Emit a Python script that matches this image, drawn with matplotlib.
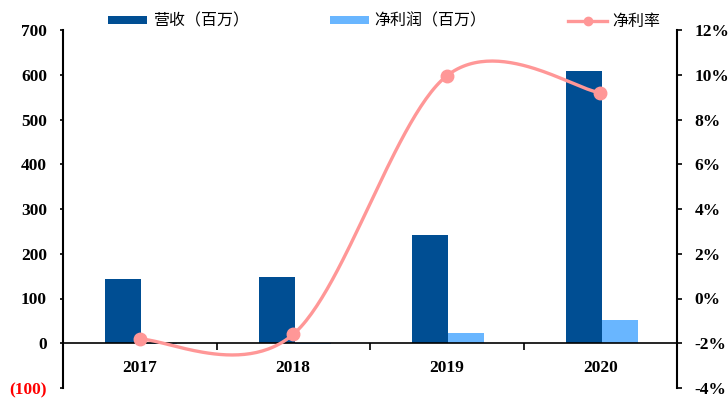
import numpy as np
import matplotlib.pyplot as plt
from matplotlib.ticker import FuncFormatter, FixedLocator

plt.rcParams['font.family'] = ['Liberation Serif', 'Noto Sans CJK SC']

# data
years = ["2017", "2018", "2019", "2020"]
revenue = [144, 147, 243, 608]        # 营收（百万）
net_profit = [-2.6, -2.4, 23, 53]     # 净利润（百万）
net_margin = [-1.82, -1.6, 9.95, 9.2]  # 净利率 (%)
legend_labels = ["营收（百万）", "净利润（百万）", "净利率"]

C_REV = "#004E93"
C_NP = "#69B6FF"
C_LINE = "#FF9797"


def smooth_curve(xs, ys, n=60):
    """Excel-like smoothed line (Catmull-Rom as cubic bezier)."""
    pts = np.column_stack([xs, ys]).astype(float)
    ext = np.vstack([pts[0], pts, pts[-1]])
    out = []
    for i in range(len(pts) - 1):
        p0, p1, p2, p3 = ext[i], ext[i + 1], ext[i + 2], ext[i + 3]
        c1 = p1 + (p2 - p0) / 6
        c2 = p2 - (p3 - p1) / 6
        t = np.linspace(0, 1, n)[:, None]
        seg = ((1 - t) ** 3) * p1 + 3 * ((1 - t) ** 2) * t * c1 + 3 * (1 - t) * t ** 2 * c2 + t ** 3 * p2
        out.append(seg)
    out = np.vstack(out)
    return out[:, 0], out[:, 1]


fig = plt.figure(figsize=(7.28, 3.98), dpi=100)
ax = fig.add_axes([63 / 728, 1 - 388 / 398, (677 - 63) / 728, (388 - 30) / 398])

x = np.arange(len(years))
w = 0.235
b1 = ax.bar(x - w / 2 + 0.01, revenue, w, color=C_REV, zorder=2)
b2 = ax.bar(x + w / 2 + 0.01, net_profit, w, color=C_NP, zorder=2)

ax.set_xlim(-0.5, len(years) - 0.5)
ax.set_ylim(-100, 700)
ax.set_yticks(np.arange(-100, 701, 100))
ax.yaxis.set_major_formatter(FuncFormatter(lambda v, p: f"({abs(v):.0f})" if v < 0 else f"{v:.0f}"))
ax.tick_params(axis='y', direction='out', length=2, width=1.2, labelsize=12.5, pad=9.5)
for lab in ax.get_yticklabels():
    lab.set_fontweight('bold')
    if lab.get_text().startswith("("):
        lab.set_color("#FF0000")

# x axis sits at zero
ax.spines['top'].set_visible(False)
ax.spines['right'].set_visible(False)
ax.spines['bottom'].set_position(('data', 0))
ax.spines['bottom'].set_linewidth(1.2)
ax.spines['left'].set_linewidth(1.5)
ax.xaxis.set_major_locator(FixedLocator([0.5, 1.5, 2.5]))
ax.xaxis.set_major_formatter(FuncFormatter(lambda v, p: ""))
ax.xaxis.set_minor_locator(FixedLocator(x))
ax.set_xticklabels(years, minor=True)
ax.tick_params(axis='x', which='major', direction='out', length=5, width=1.2)
ax.tick_params(axis='x', which='minor', length=0, pad=12, labelsize=12.5)
for lab in ax.get_xticklabels(minor=True):
    lab.set_fontweight('bold')

ax2 = ax.twinx()
sx, sy = smooth_curve(x, net_margin)
ax2.plot(sx, sy, color=C_LINE, lw=2.4, zorder=3)
ax2.plot(x, net_margin, 'o', color=C_LINE, ms=9, zorder=4)
ax2.set_ylim(-4, 12)
ax2.set_yticks(np.arange(-4, 13, 2))
ax2.yaxis.set_major_formatter(FuncFormatter(lambda v, p: f"{v:.0f}%"))
ax2.tick_params(axis='y', direction='out', length=3.6, width=1.2, labelsize=12.5, pad=9)
for lab in ax2.get_yticklabels():
    lab.set_fontweight('bold')
for s in ['top', 'left', 'bottom']:
    ax2.spines[s].set_visible(False)
ax2.spines['right'].set_linewidth(1.5)

# legend: one entry each so they sit where the reference has them
line_handle = plt.Line2D([], [], color=C_LINE, lw=2.4, marker='o', ms=6)
handles = [b1, b2, line_handle]
for h, lab, x0 in zip(handles, legend_labels, [108, 330, 568]):
    fig.legend([h], [lab], loc='center left', bbox_to_anchor=(x0 / 728, 1 - 21 / 398),
               frameon=False, prop={'family': ['Noto Sans CJK SC'], 'size': 11.5},
               borderpad=0, borderaxespad=0, handlelength=2.45, handleheight=0.42,
               handletextpad=0.35)

fig.savefig("out.png", dpi=100)
